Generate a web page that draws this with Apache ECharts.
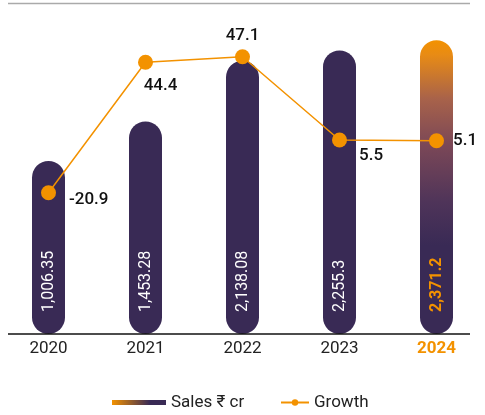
<!DOCTYPE html>
<html>
<head>
<meta charset="utf-8">
<script src="https://cdn.jsdelivr.net/npm/echarts@6/dist/echarts.min.js"></script>
<style>
  html, body { margin: 0; padding: 0; background: #fff; }
  #chart { width: 485px; height: 415px; }
</style>
</head>
<body>
<div id="chart"></div>
<script>
const years = ['2020', '2021', '2022', '2023', '2024']
const sales = [1006.35, 1453.28, 2138.08, 2255.3, 2371.2]
const growth = [-20.9, 44.4, 47.1, 5.5, 5.1]

const purple = '#392a55'
const orange = '#f39200'
const font = 'Roboto, "Noto Sans", sans-serif'

// the bars in the original stand on a padded foot below the zero line
const footValue = 946

// where each growth label sits relative to its point
const growthLabelPos = [
  { position: 'right', distance: 13, offset: [0, 7] },
  { position: 'bottom', distance: 8, offset: [15, 0] },
  { position: 'top', distance: 5, offset: [0, 0] },
  { position: 'right', distance: 12, offset: [0, 16] },
  { position: 'right', distance: 9, offset: [0, 0] }
]

function fmt (v) {
  const parts = String(v).split('.')
  parts[0] = parts[0].replace(/\B(?=(\d{3})+(?!\d))/g, ',')
  return parts.join('.')
}

const last = years.length - 1

const chart = echarts.init(document.getElementById('chart'))
const option = {
  animation: false,
  textStyle: { fontFamily: font },
  grid: { left: -4, right: -2, top: 4, bottom: 81 },
  legend: [
    {
      data: [{
        name: 'Sales ₹ cr',
        itemStyle: {
          color: new echarts.graphic.LinearGradient(0, 0, 1, 0, [
            { offset: 0, color: orange },
            { offset: 0.7, color: purple },
            { offset: 1, color: purple }
          ])
        }
      }],
      icon: 'rect',
      left: 107,
      top: 389,
      itemWidth: 54,
      itemHeight: 5,
      itemGap: 8,
      textStyle: { fontSize: 17, color: '#222', fontFamily: font }
    },
    {
      data: ['Growth'],
      left: 275,
      top: 389,
      itemWidth: 28,
      itemHeight: 8,
      textStyle: { fontSize: 17, color: '#222', fontFamily: font }
    }
  ],
  xAxis: {
    type: 'category',
    data: years,
    axisLine: { show: false },
    axisTick: { show: false },
    axisLabel: {
      margin: 6,
      fontSize: 17,
      color: '#222',
      formatter: function (v, i) {
        return i === last ? '{hi|' + v + '}' : v
      },
      rich: {
        hi: { fontSize: 17, fontWeight: 'bold', color: orange, fontFamily: font }
      }
    }
  },
  yAxis: [
    { type: 'value', min: 0, max: 3725, show: false },
    { type: 'value', min: -91.5, max: 73.5, show: false }
  ],
  graphic: [
    { type: 'line', shape: { x1: 8, y1: 3.5, x2: 470, y2: 3.5 }, style: { stroke: '#aaa', lineWidth: 1.5 } },
    { type: 'line', shape: { x1: 8, y1: 334, x2: 470, y2: 334 }, style: { stroke: '#111', lineWidth: 1.5 }, z: 100 }
  ],
  series: [
    {
      name: 'Sales ₹ cr',
      type: 'bar',
      barWidth: 33,
      itemStyle: { color: purple, borderRadius: 17 },
      label: {
        show: true,
        position: 'insideBottom',
        rotate: 90,
        align: 'left',
        verticalAlign: 'middle',
        distance: 22,
        fontSize: 16,
        color: '#fff',
        formatter: function (p) { return fmt(sales[p.dataIndex]) }
      },
      data: sales.map(function (v, i) {
        if (i !== last) return v + footValue
        return {
          value: v + footValue,
          itemStyle: {
            color: new echarts.graphic.LinearGradient(0, 0, 0, 1, [
              { offset: 0, color: orange },
              { offset: 0.05, color: '#e88b15' },
              { offset: 0.2, color: '#a8624a' },
              { offset: 0.36, color: '#7a4757' },
              { offset: 0.55, color: '#4f3459' },
              { offset: 0.7, color: purple },
              { offset: 1, color: purple }
            ])
          },
          label: { color: orange, fontWeight: 'bold' }
        }
      }),
      z: 2
    },
    {
      name: 'Growth',
      type: 'line',
      yAxisIndex: 1,
      symbol: 'circle',
      symbolSize: 15,
      itemStyle: { color: orange },
      lineStyle: { color: orange, width: 1.5 },
      label: {
        show: true,
        fontSize: 17,
        fontWeight: 500,
        color: '#111'
      },
      data: growth.map(function (v, i) {
        return { value: v, label: growthLabelPos[i] }
      }),
      z: 10
    }
  ]
}
chart.setOption(option)
</script>
</body>
</html>
